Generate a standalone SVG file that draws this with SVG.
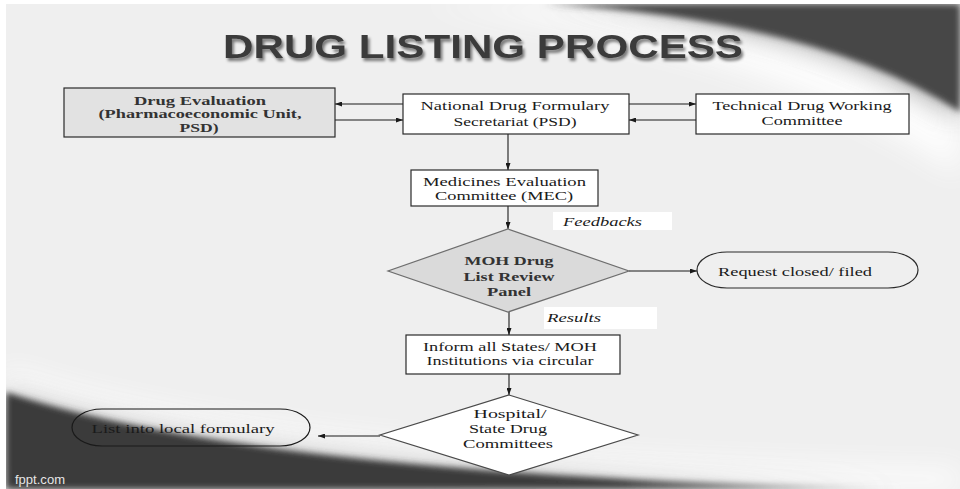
<svg xmlns="http://www.w3.org/2000/svg" width="960" height="489" viewBox="0 0 960 489">
  <defs>
    <style>
      .box { fill: #ffffff; stroke: #2a2a2a; stroke-width: 1.2; }
      .serif { font-family: "Liberation Serif", "Times New Roman", serif; font-size: 13.5px; fill: #1a1a1a; text-anchor: middle; }
      .bold { font-weight: bold; fill: #333333; }
      .ital { font-style: italic; text-anchor: start; }
      .conn { stroke: #1a1a1a; stroke-width: 1.1; fill: none; marker-end: url(#arrow); }
      .label-bg { fill: #ffffff; }
    </style>
    <marker id="arrow" markerWidth="7" markerHeight="5" refX="7" refY="2.5" orient="auto" markerUnits="userSpaceOnUse">
      <path d="M0,0 L7,2.5 L0,5 z" fill="#1a1a1a"/>
    </marker>
    <filter id="soft" x="-10%" y="-50%" width="120%" height="200%">
      <feGaussianBlur stdDeviation="3"/>
    </filter>
    <filter id="haze" x="-20%" y="-80%" width="140%" height="260%">
      <feGaussianBlur stdDeviation="14"/>
    </filter>
    <filter id="shadow" x="-5%" y="-30%" width="110%" height="160%">
      <feGaussianBlur in="SourceAlpha" stdDeviation="1.8"/>
      <feOffset dx="2" dy="2.5" result="b"/>
      <feComponentTransfer><feFuncA type="linear" slope="0.5"/></feComponentTransfer>
      <feMerge><feMergeNode/><feMergeNode in="SourceGraphic"/></feMerge>
    </filter>
    <linearGradient id="bottomDark" x1="0" y1="0" x2="1" y2="0">
      <stop offset="0" stop-color="#3a3a3a"/>
      <stop offset="0.68" stop-color="#3c3c3c"/>
      <stop offset="0.88" stop-color="#8a8a8a"/>
      <stop offset="1" stop-color="#d8d8d8"/>
    </linearGradient>
  </defs>

  <!-- page -->
  <rect width="960" height="489" fill="#ffffff"/>
  <rect x="6" y="4" width="954" height="485" fill="#efefef"/>

  <!-- top-right swoosh -->
  <g id="swoosh-top">
    <path d="M420,4 Q760,40 960,175 L960,4 Z" fill="#ffffff" filter="url(#haze)" opacity="0.9"/>
    <path d="M545,4 Q820,20 960,118 L960,4 Z" fill="#6a6a6a" filter="url(#haze)" opacity="0.6"/>
    <path d="M545,4 Q820,20 960,112 L960,4 Z" fill="#474747" filter="url(#soft)"/>
  </g>

  <!-- bottom-left swoosh -->
  <g id="swoosh-bottom">
    <path d="M6,370 Q260,460 960,470 L960,489 L6,489 Z" fill="#ffffff" filter="url(#haze)" opacity="0.9"/>
    <path d="M6,392 Q250,475 900,489 L6,489 Z" fill="#7a7a7a" filter="url(#haze)" opacity="0.55"/>
    <path d="M6,392 Q250,475 900,489 L6,489 Z" fill="url(#bottomDark)" filter="url(#soft)"/>
  </g>
  <rect x="0" y="0" width="6" height="489" fill="#ffffff"/>
  <rect x="0" y="0" width="960" height="4" fill="#ffffff"/>

  <!-- title -->
  <text x="483" y="58" font-family="Liberation Sans, Arial, sans-serif" font-size="33" font-weight="bold" fill="#3b3b3b" text-anchor="middle" textLength="520" lengthAdjust="spacingAndGlyphs" filter="url(#shadow)">DRUG LISTING PROCESS</text>

  <!-- connectors -->
  <g id="connectors">
    <line class="conn" x1="403" y1="104" x2="335" y2="104"/>
    <line class="conn" x1="335" y1="120" x2="403" y2="120"/>
    <line class="conn" x1="629" y1="104" x2="696" y2="104"/>
    <line class="conn" x1="696" y1="120" x2="629" y2="120"/>
    <line class="conn" x1="508" y1="134" x2="508" y2="170"/>
    <line class="conn" x1="508" y1="206" x2="508" y2="229"/>
    <line class="conn" x1="629" y1="271" x2="697" y2="271"/>
    <line class="conn" x1="509" y1="312" x2="509" y2="335"/>
    <line class="conn" x1="509" y1="374" x2="509" y2="395"/>
    <line class="conn" x1="380" y1="436" x2="318" y2="436"/>
  </g>

  <!-- connector labels -->
  <g id="label-feedbacks">
    <rect class="label-bg" x="553" y="212" width="119" height="18"/>
    <text class="serif ital" x="563" y="226" textLength="79" lengthAdjust="spacingAndGlyphs">Feedbacks</text>
  </g>
  <g id="label-results">
    <rect class="label-bg" x="544" y="307" width="113" height="22"/>
    <text class="serif ital" x="547" y="322" textLength="54" lengthAdjust="spacingAndGlyphs">Results</text>
  </g>

  <!-- nodes -->
  <g id="drug-evaluation">
    <rect x="64" y="88" width="271" height="49" fill="#e2e2e2" stroke="#2a2a2a" stroke-width="1.2"/>
    <text class="serif bold" x="200" y="104.5" textLength="132" lengthAdjust="spacingAndGlyphs">Drug Evaluation</text>
    <text class="serif bold" x="200" y="118" textLength="203" lengthAdjust="spacingAndGlyphs">(Pharmacoeconomic Unit,</text>
    <text class="serif bold" x="199" y="131.5" textLength="39" lengthAdjust="spacingAndGlyphs">PSD)</text>
  </g>

  <g id="ndfs">
    <rect class="box" x="403" y="94" width="226" height="40"/>
    <text class="serif" x="515" y="109.5" textLength="189" lengthAdjust="spacingAndGlyphs">National Drug  Formulary</text>
    <text class="serif" x="515" y="125.5" textLength="123" lengthAdjust="spacingAndGlyphs">Secretariat (PSD)</text>
  </g>

  <g id="tdwc">
    <rect class="box" x="696" y="94" width="213" height="40"/>
    <text class="serif" x="802" y="109.5" textLength="179" lengthAdjust="spacingAndGlyphs">Technical Drug  Working</text>
    <text class="serif" x="802" y="124.5" textLength="81" lengthAdjust="spacingAndGlyphs">Committee</text>
  </g>

  <g id="mec">
    <rect class="box" x="411" y="170" width="187" height="36"/>
    <text class="serif" x="504.5" y="185.5" textLength="163" lengthAdjust="spacingAndGlyphs">Medicines Evaluation</text>
    <text class="serif" x="504" y="199.5" textLength="138" lengthAdjust="spacingAndGlyphs">Committee (MEC)</text>
  </g>

  <g id="review-panel">
    <polygon points="508,229 629,271 508,312 388,271" fill="#dadada" stroke="#6e6e6e" stroke-width="1.2"/>
    <text class="serif bold" x="509" y="264.5" textLength="89" lengthAdjust="spacingAndGlyphs">MOH Drug</text>
    <text class="serif bold" x="509" y="280.5" textLength="91" lengthAdjust="spacingAndGlyphs">List Review</text>
    <text class="serif bold" x="509" y="295.5" textLength="44" lengthAdjust="spacingAndGlyphs">Panel</text>
  </g>

  <g id="request-closed">
    <rect x="697" y="252" width="221" height="36" rx="30" ry="18" fill="none" stroke="#2a2a2a" stroke-width="1.2"/>
    <text class="serif" x="795" y="276" textLength="154" lengthAdjust="spacingAndGlyphs">Request closed/  filed</text>
  </g>

  <g id="inform">
    <rect class="box" x="406" y="335" width="214" height="39"/>
    <text class="serif" x="510" y="350.5" textLength="174" lengthAdjust="spacingAndGlyphs">Inform all States/ MOH</text>
    <text class="serif" x="510" y="364.5" textLength="167" lengthAdjust="spacingAndGlyphs">Institutions via circular</text>
  </g>

  <g id="hospital-committees">
    <polygon points="509,395 638,435 509,475 380,435" fill="#ffffff" stroke="#4a4a4a" stroke-width="1.2"/>
    <text class="serif" x="510" y="417.5" textLength="73" lengthAdjust="spacingAndGlyphs">Hospital/</text>
    <text class="serif" x="508" y="432.5" textLength="78" lengthAdjust="spacingAndGlyphs">State Drug</text>
    <text class="serif" x="508" y="447.5" textLength="90" lengthAdjust="spacingAndGlyphs">Committees</text>
  </g>

  <g id="local-formulary">
    <rect x="72" y="409" width="238" height="37" rx="30" ry="18.5" fill="none" stroke="#1a1a1a" stroke-width="1.2"/>
    <text class="serif" x="183" y="432.5" textLength="183" lengthAdjust="spacingAndGlyphs">List into local formulary</text>
  </g>

  <!-- footer -->
  <text x="15" y="484" font-family="Liberation Sans, Arial, sans-serif" font-size="12" fill="#e6e6e6" textLength="50" lengthAdjust="spacingAndGlyphs">fppt.com</text>
</svg>
